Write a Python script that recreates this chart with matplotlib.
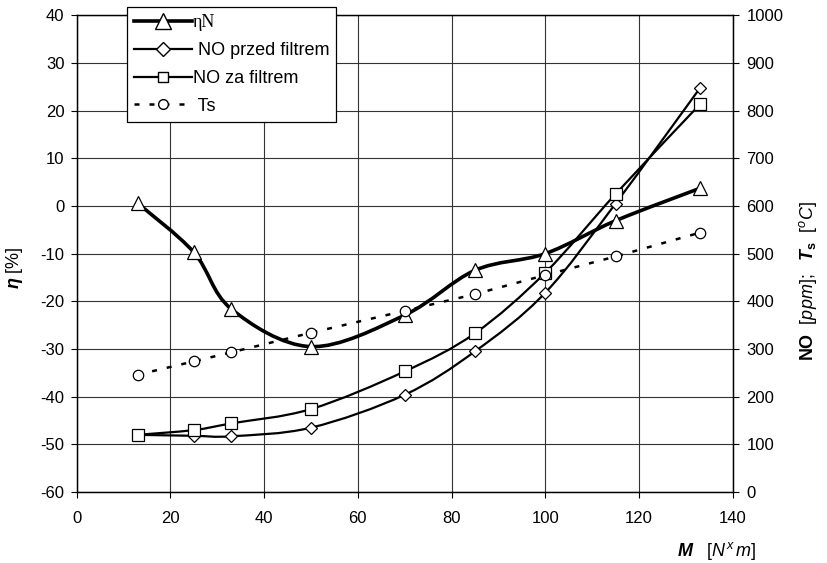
import numpy as np
import matplotlib
matplotlib.use('Agg')
import matplotlib.pyplot as plt
from matplotlib.path import Path
from matplotlib.patches import PathPatch
from matplotlib.lines import Line2D

plt.rcParams['font.family'] = ['Liberation Sans', 'DejaVu Sans']
plt.rcParams['axes.unicode_minus'] = False
plt.rcParams['mathtext.fontset'] = 'custom'
plt.rcParams['mathtext.rm'] = 'Liberation Sans'
plt.rcParams['mathtext.it'] = 'Liberation Sans:italic'
plt.rcParams['mathtext.bf'] = 'Liberation Sans:bold'
plt.rcParams['mathtext.bfit'] = 'Liberation Sans:italic:bold'

# torque M [N*m]
m = [13, 25, 33, 50, 70, 85, 100, 115, 133]
# efficiency eta N [%] (left axis)
eta = [0.6, -9.7, -21.6, -29.5, -22.9, -13.5, -10.0, -3.1, 3.7]
# NO before filter [ppm] (right axis)
no_przed = [120, 118, 117, 135, 204, 295, 418, 605, 847]
# NO after filter [ppm] (right axis)
no_za = [120, 130, 144, 174, 253, 333, 460, 625, 813]
# exhaust temperature Ts [C] (right axis)
ts = [246, 274, 293, 334, 380, 415, 455, 494, 544]


def smooth_path(x, y):
    # Excel-like smoothed line: cubic Bezier through every point
    p = np.column_stack([x, y]).astype(float)
    ext = np.vstack([p[0], p, p[-1]])
    verts = [p[0]]
    codes = [Path.MOVETO]
    for i in range(len(p) - 1):
        c1 = ext[i + 1] + (ext[i + 2] - ext[i]) / 6.0
        c2 = ext[i + 2] - (ext[i + 3] - ext[i + 1]) / 6.0
        verts += [c1, c2, p[i + 1]]
        codes += [Path.CURVE4] * 3
    return Path(verts, codes)


fig = plt.figure(figsize=(8.27, 5.63), dpi=100)
ax = fig.add_axes([0.0926, 0.126, 0.7934, 0.847])
ax2 = ax.twinx()

ax.set_xlim(0, 140)
ax.set_ylim(-60, 40)
ax2.set_ylim(0, 1000)
ax.set_xticks(np.arange(0, 141, 20))
ax.set_yticks(np.arange(-60, 41, 10))
ax2.set_yticks(np.arange(0, 1001, 100))
ax.grid(True, color='#333333', lw=0.8)
ax.set_axisbelow(True)

for a in (ax, ax2):
    a.tick_params(labelsize=12, direction='out', length=4.3, width=0.8)
    for s in a.spines.values():
        s.set_linewidth(0.9)
ax.tick_params(axis='x', pad=9)
ax.tick_params(axis='y', pad=4.5)
ax2.tick_params(axis='y', pad=5.5)

# curves
ax.add_patch(PathPatch(smooth_path(m, eta), fill=False, lw=2.6, ec='black', zorder=3))
ax2.add_patch(PathPatch(smooth_path(m, no_przed), fill=False, lw=1.6, ec='black', zorder=3))
ax2.add_patch(PathPatch(smooth_path(m, no_za), fill=False, lw=1.6, ec='black', zorder=3))
ax2.plot(m, ts, color='black', lw=1.8, ls=(0, (2, 4)), zorder=3)

mk = dict(mfc='white', mec='black', mew=0.9, ls='none', zorder=4)
ax.plot(m, eta, marker='^', ms=9.5, **mk)
ax2.plot(m, no_przed, marker='D', ms=6.3, **mk)
ax2.plot(m, no_za, marker='s', ms=8, **mk)
ax2.plot(m, ts, marker='o', ms=7.5, **mk)

ax.set_ylabel(r'$\mathbfit{\eta}\ \mathit{[\%]}$', fontsize=13)
ax.yaxis.set_label_coords(-0.079, 0.47)
ax2.set_ylabel(r'$\mathbf{NO}\ \ \mathit{[ppm];}\ \ \mathbfit{T}_{\mathbf{s}}\ \ \mathit{[^{o}C]}$',
               fontsize=13)
ax2.yaxis.set_label_coords(1.098, 0.442)
ax.set_xlabel(r'$\mathbfit{M}\ \ \ \mathit{[N}^{\mathit{x}}\,\mathit{m]}$', fontsize=13)
ax.xaxis.set_label_coords(0.975, -0.1)

handles = [
    Line2D([], [], color='black', lw=2.6, marker='^', ms=11, mfc='white', mec='black'),
    Line2D([], [], color='black', lw=1.6, marker='D', ms=7.5, mfc='white', mec='black'),
    Line2D([], [], color='black', lw=1.6, marker='s', ms=7.7, mfc='white', mec='black'),
    Line2D([], [], color='black', lw=1.8, ls=(0, (2, 4)), marker='o', ms=7, mfc='white', mec='black'),
]
labels = ['ηN', ' NO przed filtrem', 'NO za filtrem', ' Ts']
leg = fig.legend(handles, labels, loc='upper left', bbox_to_anchor=(0.154, 0.987),
                 fontsize=13, frameon=True, fancybox=False, edgecolor='black',
                 framealpha=1, handlelength=3.2, handletextpad=0.05,
                 labelspacing=0.6, borderpad=0.38, borderaxespad=0)
leg.get_frame().set_linewidth(0.9)
leg.get_texts()[0].set_family(['Liberation Serif'])
leg.set_zorder(10)

fig.savefig('out.png', dpi=100)
